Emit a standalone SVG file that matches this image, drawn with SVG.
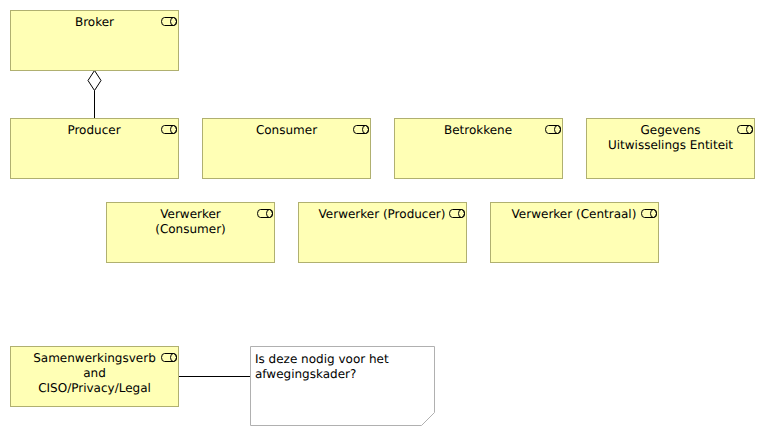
<svg xmlns="http://www.w3.org/2000/svg" width="765" height="436" viewBox="0 0 765 436">
<style>
text{font-family:"DejaVu Sans",sans-serif;font-size:12px;fill:#000;text-rendering:geometricPrecision}
.c{text-anchor:middle}
.b{fill:#ffffb5;stroke:#b0b070;stroke-width:1}
.i{fill:none;stroke:#000;stroke-width:1}
.l{fill:none;stroke:#000;stroke-width:1}
</style>
<defs>
<g id="role"><path class="i" d="M-11.500 -3.500H-2.500a3 4 0 0 1 0 8H-11.500a3 4 0 0 1 0 -8Z"/><ellipse class="i" cx="-2.500" cy="0.500" rx="3" ry="4"/></g>
</defs>
<rect width="765" height="436" fill="#fff"/>
<g id="connectors">
<path class="l" d="M94.500 118.500V90.500"/>
<path class="l" d="M94.500 70.500L101 80.500L94.500 90.500L88 80.500Z" fill="#fff"/>
<path class="l" d="M178.500 376.500H250.500"/>
</g>
<g id="broker"><rect class="b" x="10.500" y="10.500" width="168" height="60"/><text class="c" x="94.500" y="26">Broker</text><use href="#role" x="176" y="21"/></g>
<g id="producer"><rect class="b" x="10.500" y="118.500" width="168" height="60"/><text class="c" x="94" y="134">Producer</text><use href="#role" x="176" y="129"/></g>
<g id="consumer"><rect class="b" x="202.500" y="118.500" width="168" height="60"/><text class="c" x="286.500" y="134">Consumer</text><use href="#role" x="368" y="129"/></g>
<g id="betrokkene"><rect class="b" x="394.500" y="118.500" width="168" height="60"/><text class="c" x="478" y="134">Betrokkene</text><use href="#role" x="560" y="129"/></g>
<g id="gegevens"><rect class="b" x="586.500" y="118.500" width="168" height="60"/><text class="c" x="670.500" y="134">Gegevens</text><text class="c" x="670.500" y="149">Uitwisselings Entiteit</text><use href="#role" x="752" y="129"/></g>
<g id="verwerker-consumer"><rect class="b" x="106.500" y="202.500" width="168" height="60"/><text class="c" x="190.500" y="218">Verwerker</text><text class="c" x="190.500" y="233">(Consumer)</text><use href="#role" x="272" y="213"/></g>
<g id="verwerker-producer"><rect class="b" x="298.500" y="202.500" width="168" height="60"/><text class="c" x="382" y="218">Verwerker (Producer)</text><use href="#role" x="464" y="213"/></g>
<g id="verwerker-centraal"><rect class="b" x="490.500" y="202.500" width="168" height="60"/><text class="c" x="574" y="218">Verwerker (Centraal)</text><use href="#role" x="656" y="213"/></g>
<g id="samenwerking"><rect class="b" x="10.500" y="346.500" width="168" height="60"/><text class="c" x="94.500" y="362">Samenwerkingsverb</text><text class="c" x="94.500" y="377">and</text><text class="c" x="94.500" y="392">CISO/Privacy/Legal</text><use href="#role" x="176" y="357"/></g>
<g id="note"><path d="M250.500 346.500H434.500V412.500L421.500 425.500H250.500Z" fill="#fff" stroke="#b0b0b0"/><text x="255" y="363">Is deze nodig voor het</text><text x="255" y="378">afwegingskader?</text></g>
</svg>
